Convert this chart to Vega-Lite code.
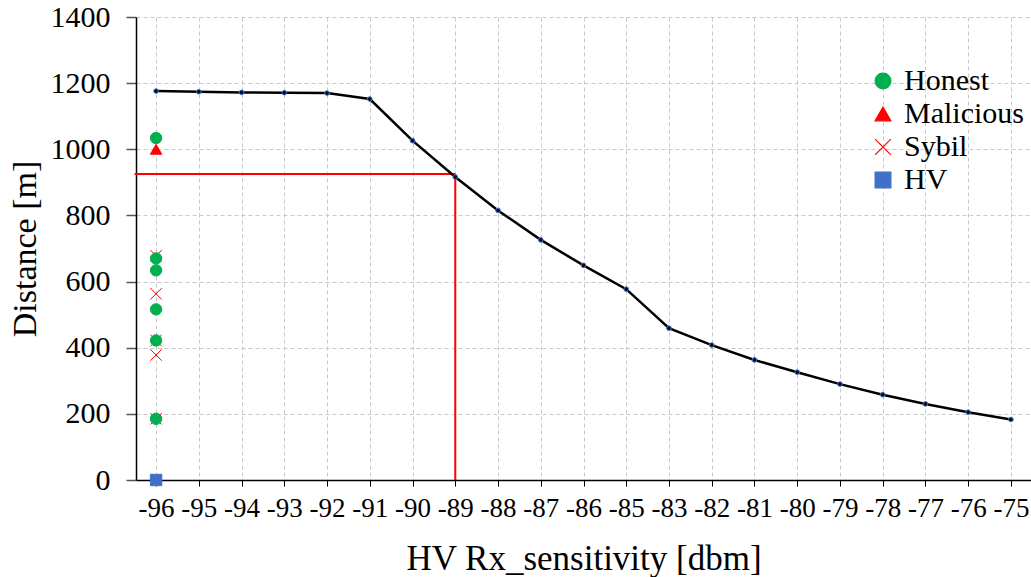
{
  "$schema": "https://vega.github.io/schema/vega-lite/v6.json",
  "width": 895,
  "height": 463,
  "autosize": {"type": "none"},
  "padding": {"left": 136, "top": 17, "right": 0, "bottom": 97},
  "background": "white",
  "config": {
    "font": "Liberation Serif",
    "view": {"stroke": null},
    "axis": {
      "labelFont": "Liberation Serif",
      "titleFont": "Liberation Serif",
      "labelColor": "black",
      "titleColor": "black",
      "titleFontWeight": "normal",
      "domainColor": "black",
      "domainWidth": 1.5,
      "gridColor": "#c8c8c8",
      "gridDash": [4, 3],
      "gridWidth": 1
    },
    "legend": {
      "labelFont": "Liberation Serif",
      "title": null,
      "orient": "none",
      "legendX": 732,
      "legendY": 49,
      "labelFontSize": 30,
      "labelColor": "black",
      "symbolSize": 250,
      "symbolStrokeWidth": 1.2,
      "labelOffset": 6,
      "rowPadding": 3,
      "padding": 0
    }
  },
  "datasets": {
    "curve": [
      {"sens": -96, "dist": 1176},
      {"sens": -95, "dist": 1174},
      {"sens": -94, "dist": 1172},
      {"sens": -93, "dist": 1171},
      {"sens": -92, "dist": 1170},
      {"sens": -91, "dist": 1152},
      {"sens": -90, "dist": 1026},
      {"sens": -89, "dist": 916},
      {"sens": -88, "dist": 815},
      {"sens": -87, "dist": 726},
      {"sens": -86, "dist": 649},
      {"sens": -85, "dist": 577},
      {"sens": -83, "dist": 459},
      {"sens": -82, "dist": 408},
      {"sens": -81, "dist": 363},
      {"sens": -80, "dist": 326},
      {"sens": -79, "dist": 290},
      {"sens": -78, "dist": 258},
      {"sens": -77, "dist": 230},
      {"sens": -76, "dist": 205},
      {"sens": -75, "dist": 183}
    ],
    "nodes": [
      {"sens": -96, "dist": 678, "type": "Sybil"},
      {"sens": -96, "dist": 563, "type": "Sybil"},
      {"sens": -96, "dist": 378, "type": "Sybil"},
      {"sens": -96, "dist": 422, "type": "Sybil"},
      {"sens": -96, "dist": 185, "type": "Sybil"},
      {"sens": -96, "dist": 1034, "type": "Honest"},
      {"sens": -96, "dist": 670, "type": "Honest"},
      {"sens": -96, "dist": 634, "type": "Honest"},
      {"sens": -96, "dist": 516, "type": "Honest"},
      {"sens": -96, "dist": 422, "type": "Honest"},
      {"sens": -96, "dist": 185, "type": "Honest"},
      {"sens": -96, "dist": 1000, "type": "Malicious"},
      {"sens": -96, "dist": 0, "type": "HV"}
    ],
    "threshold": [
      {"from": -96, "sens": -89, "dist": 925, "base": 0}
    ]
  },
  "layer": [
    {
      "data": {"name": "threshold"},
      "mark": {"type": "rule", "color": "#ff0000", "strokeWidth": 2, "xOffset": -21.5},
      "encoding": {
        "x": {"field": "from", "type": "ordinal"},
        "x2": {"field": "sens"},
        "y": {"field": "dist", "type": "quantitative"}
      }
    },
    {
      "data": {"name": "threshold"},
      "mark": {"type": "rule", "color": "#ff0000", "strokeWidth": 2},
      "encoding": {
        "x": {"field": "sens", "type": "ordinal"},
        "y": {"field": "dist", "type": "quantitative"},
        "y2": {"field": "base"}
      }
    },
    {
      "data": {"name": "curve"},
      "mark": {"type": "line", "color": "black", "strokeWidth": 2.5},
      "encoding": {
        "x": {"field": "sens", "type": "ordinal"},
        "y": {"field": "dist", "type": "quantitative"}
      }
    },
    {
      "data": {"name": "curve"},
      "mark": {"type": "point", "filled": true, "fill": "#0a0a1e", "stroke": "#4a78c8", "strokeWidth": 1, "size": 22, "opacity": 1},
      "encoding": {
        "x": {"field": "sens", "type": "ordinal"},
        "y": {"field": "dist", "type": "quantitative"}
      }
    },
    {
      "data": {"name": "nodes"},
      "mark": {"type": "point", "filled": true, "opacity": 1, "strokeWidth": 1, "size": 130},
      "encoding": {
        "x": {"field": "sens", "type": "ordinal"},
        "y": {"field": "dist", "type": "quantitative"},
        "shape": {
          "field": "type", "type": "nominal",
          "scale": {"domain": ["Honest", "Malicious", "Sybil", "HV"], "range": ["circle", "triangle-up", "M-1,-1L1,1M1,-1L-1,1", "square"]}
        },
        "color": {
          "field": "type", "type": "nominal",
          "scale": {"domain": ["Honest", "Malicious", "Sybil", "HV"], "range": ["#00b050", "#ff0000", "#ff0000", "#3f6fc6"]}
        },
        "stroke": {
          "field": "type", "type": "nominal",
          "scale": {"domain": ["Honest", "Malicious", "Sybil", "HV"], "range": ["#00b050", "#ff0000", "#ff0000", "#3f6fc6"]}
        }
      }
    }
  ],
  "encoding": {
    "x": {
      "field": "sens", "type": "ordinal",
      "scale": {"type": "point", "padding": 0.47},
      "sort": "ascending",
      "axis": {
        "title": "HV Rx_sensitivity [dbm]",
        "labelAngle": 0,
        "labelFontSize": 27,
        "titleFontSize": 35,
        "tickSize": 6,
        "tickColor": "black",
        "labelPadding": 9,
        "titlePadding": 20,
        "grid": true
      }
    },
    "y": {
      "field": "dist", "type": "quantitative",
      "scale": {"domain": [0, 1400], "nice": false},
      "axis": {
        "title": "Distance [m]",
        "format": "d",
        "values": [0, 200, 400, 600, 800, 1000, 1200, 1400],
        "labelFontSize": 30,
        "titleFontSize": 34,
        "tickSize": 10,
        "tickColor": "#555555",
        "tickWidth": 1.5,
        "labelPadding": 16,
        "titlePadding": 8,
        "grid": true
      }
    }
  }
}
